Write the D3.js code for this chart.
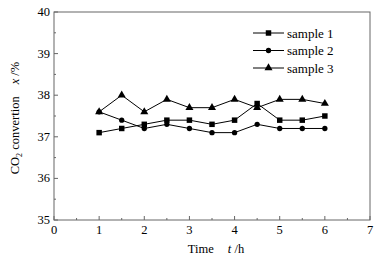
<!DOCTYPE html>
<html>
<head>
<meta charset="utf-8">
<script src="https://cdn.jsdelivr.net/npm/d3@7"></script>
<style>
body { margin: 0; background: #fff; }
text { font-family: "Liberation Serif", "Times New Roman", serif; fill: #000; }
</style>
</head>
<body>
<div id="graph"></div>
<script>
// data
const times = [1, 1.5, 2, 2.5, 3, 3.5, 4, 4.5, 5, 5.5, 6];
const sample1 = [37.1, 37.2, 37.3, 37.4, 37.4, 37.3, 37.4, 37.8, 37.4, 37.4, 37.5];
const sample2 = [37.6, 37.4, 37.2, 37.3, 37.2, 37.1, 37.1, 37.3, 37.2, 37.2, 37.2];
const sample3 = [37.6, 38.0, 37.6, 37.9, 37.7, 37.7, 37.9, 37.7, 37.9, 37.9, 37.8];
const seriesNames = ["sample 1", "sample 2", "sample 3"];
const xTicks = [0, 1, 2, 3, 4, 5, 6, 7];
const yTicks = [35, 36, 37, 38, 39, 40];

const width = 384, height = 261;
const padding = {left: 54, right: 14, top: 12, bottom: 41};

const graph = d3.select("div#graph").append("svg")
	.attr("width", width)
	.attr("height", height);

const xScale = d3.scaleLinear().domain([0, 7]).range([padding.left, width - padding.right]);
const yScale = d3.scaleLinear().domain([35, 40]).range([height - padding.bottom, padding.top]);

const axisColor = "#666";

// frame
graph.append("rect")
	.attr("x", padding.left).attr("y", padding.top)
	.attr("width", xScale(7) - xScale(0))
	.attr("height", yScale(35) - yScale(40))
	.attr("fill", "none").attr("stroke", axisColor).attr("stroke-width", 1);

// x ticks (inward)
const xMinor = d3.range(0.5, 7, 1);
graph.selectAll(".xt").data(xTicks).enter().append("line")
	.attr("x1", d => xScale(d)).attr("x2", d => xScale(d))
	.attr("y1", yScale(35)).attr("y2", yScale(35) - 4)
	.attr("stroke", axisColor);
graph.selectAll(".xm").data(xMinor).enter().append("line")
	.attr("x1", d => xScale(d)).attr("x2", d => xScale(d))
	.attr("y1", yScale(35)).attr("y2", yScale(35) - 2)
	.attr("stroke", axisColor);
graph.selectAll(".xl").data(xTicks).enter().append("text")
	.attr("x", d => xScale(d)).attr("y", yScale(35) + 14)
	.attr("text-anchor", "middle").attr("font-size", 12.5)
	.text(d => d);

// y ticks (inward)
const yMinor = d3.range(35.5, 40, 1);
graph.selectAll(".yt").data(yTicks).enter().append("line")
	.attr("x1", xScale(0)).attr("x2", xScale(0) + 4)
	.attr("y1", d => yScale(d)).attr("y2", d => yScale(d))
	.attr("stroke", axisColor);
graph.selectAll(".ym").data(yMinor).enter().append("line")
	.attr("x1", xScale(0)).attr("x2", xScale(0) + 2)
	.attr("y1", d => yScale(d)).attr("y2", d => yScale(d))
	.attr("stroke", axisColor);
graph.selectAll(".yl").data(yTicks).enter().append("text")
	.attr("x", xScale(0) - 4).attr("y", d => yScale(d) + 4)
	.attr("text-anchor", "end").attr("font-size", 12.5)
	.text(d => d);

// axis titles
const xt = graph.append("text")
	.attr("x", 216).attr("y", 253)
	.attr("text-anchor", "middle").attr("font-size", 12.5);
xt.append("tspan").text("Time");
xt.append("tspan").attr("dx", 14).attr("font-style", "italic").text("t");
xt.append("tspan").text(" /h");

const yt = graph.append("text")
	.attr("transform", "translate(19,118) rotate(-90)")
	.attr("text-anchor", "middle").attr("font-size", 12.5);
yt.append("tspan").text("CO");
yt.append("tspan").attr("font-size", 8).attr("dy", 3).text("2");
yt.append("tspan").attr("dy", -3).text(" convertion");
yt.append("tspan").attr("dx", 12).attr("font-style", "italic").text("x");
yt.append("tspan").text(" /%");

// series
const data = [sample1, sample2, sample3].map((vals, i) => ({
	name: seriesNames[i],
	values: vals.map((v, j) => ({t: times[j], v: v}))
}));
const symbols = [d3.symbolSquare, d3.symbolCircle, d3.symbolTriangle];
const symSize = [30, 22, 28];

const line = d3.line().x(d => xScale(d.t)).y(d => yScale(d.v));

data.forEach((s, i) => {
	graph.append("path").datum(s.values)
		.attr("fill", "none").attr("stroke", "#000").attr("stroke-width", 1)
		.attr("d", line);
	graph.selectAll(".pt" + i).data(s.values).enter().append("path")
		.attr("transform", d => `translate(${xScale(d.t)},${yScale(d.v)})`)
		.attr("d", d3.symbol().type(symbols[i]).size(symSize[i]))
		.attr("fill", "#000");
});

// legend
const legend = graph.selectAll(".legend").data(data).enter().append("g")
	.attr("class", "legend")
	.attr("transform", (d, i) => `translate(253,${33 + 17.5 * i})`);
legend.append("line")
	.attr("x1", 0).attr("x2", 31).attr("y1", 0).attr("y2", 0)
	.attr("stroke", "#000");
legend.append("path")
	.attr("transform", "translate(15.5,0)")
	.attr("d", (d, i) => d3.symbol().type(symbols[i]).size(symSize[i])())
	.attr("fill", "#000");
legend.append("text")
	.attr("x", 34).attr("y", 4.5).attr("font-size", 13)
	.text(d => d.name);
</script>
</body>
</html>
